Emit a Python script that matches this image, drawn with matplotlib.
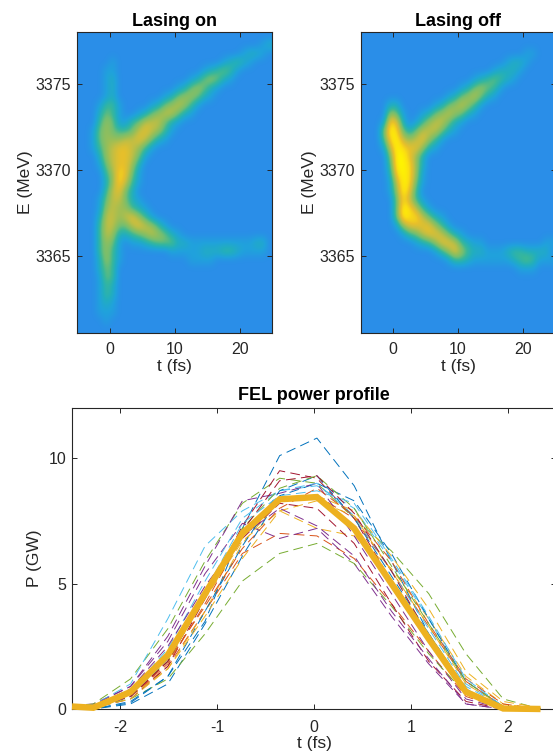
# -*- coding: utf-8 -*-
import numpy as np
import matplotlib
matplotlib.use("Agg")
import matplotlib.pyplot as plt
from matplotlib.colors import LinearSegmentedColormap

plt.rcParams['font.family'] = ['Liberation Sans', 'DejaVu Sans']
plt.rcParams['axes.unicode_minus'] = False

#----------------------------------------------------
#   camera images, read off by eye
#   1 char = 1 level (0-9), 1 fs x 0.5 MeV per cell, missing chars = 0
#----------------------------------------------------
rows_on = [
    "",
    "0000000000000000000000000000" "12",
    "0000000000000000000000000" "12210",
    "000001" "0000000000000000" "12321",
    "000011" "0000000000000" "123431",
    "000012" "00000000000" "1245421",
    "000012" "000000000" "1245421",
    "000012" "0000000" "12455421",
    "0001331" "0000" "12456531",
    "0002431" "00" "124566421",
    "0003541" "134666421",
    "001454334676531",
    "00145556676421",
    "001356776531",
    "00025677641",
    "0001467752",
    "0000358741",
    "0000258631",
    "000036742",
    "0001466421",
    "00015655321",
    "000266567531",
    "00036644676531",
    "0003652234565421",
    "00035410" "1123444221" "11111111122",
    "0003531" "0000000" "111112223321111",
    "0002531" "0000000000" "111100000",
    "000243",
    "000143",
    "000132",
    "000132",
    "000121",
    "000111",
    "00001",
    "",
]

rows_off = [
    "",
    "",
    "0000000000000000000000000" "11",
    "0000000000000000000000" "1221",
    "00000000000000000000" "12221",
    "00000000000000000" "1234321",
    "000000000000000" "1245431",
    "0000000000000" "12456421",
    "000022" "00000" "12456531",
    "0000541" "00" "124565421",
    "0001872" "0" "13566421",
    "0004984" "24666421",
    "000" "3896567531",
    "000" "169877521",
    "0000" "499752",
    "0000" "399852",
    "0000" "289851",
    "0000" "169841",
    "0000" "15973",
    "00000" "48631",
    "00000" "498631",
    "00000" "49886421",
    "00000" "157777531",
    "000000" "1346776421",
    "00000000" "12357763211" "000000000111",
    "00000000000" "13575322111" "2332222",
    "0000000000000" "1332111111" "2343111",
    "000000000000000000000000" "111",
    "",
    "",
    "",
    "",
    "",
    "",
    "",
]

#----------------------------------------------------
#   FEL power profile, single shots and average
#----------------------------------------------------
t_fs = [-2.665, -2.28, -1.895, -1.51, -1.125, -0.74, -0.355,
        0.03, 0.415, 0.8, 1.185, 1.57, 1.955, 2.34]

shot_01 = [0.0, 0.0, 0.25, 1.3, 3.5, 7.2, 10.1, 10.8, 8.9, 5.9, 3.0, 0.8, 0.0, 0.0]
shot_02 = [0.05, 0.1, 0.5, 1.7, 3.9, 6.2, 7.0, 6.9, 6.0, 4.2, 2.3, 0.5, 0.0, 0.0]
shot_03 = [0.0, 0.05, 0.6, 2.0, 4.4, 6.7, 7.9, 7.2, 6.9, 5.6, 3.6, 1.3, 0.2, 0.0]
shot_04 = [0.1, 0.2, 0.9, 2.7, 5.4, 7.4, 6.8, 7.2, 5.8, 3.7, 1.8, 0.2, 0.0, 0.0]
shot_05 = [0.05, 0.2, 1.2, 3.2, 5.9, 8.2, 9.2, 9.0, 7.6, 6.3, 4.6, 2.2, 0.4, 0.0]
shot_06 = [0.15, 0.15, 1.0, 3.6, 6.5, 7.9, 8.7, 8.9, 8.0, 5.9, 3.6, 1.0, 0.1, 0.0]
shot_07 = [0.0, 0.05, 0.4, 1.7, 4.4, 7.3, 9.5, 9.2, 7.6, 5.1, 2.7, 0.6, 0.0, 0.0]
shot_08 = [0.0, 0.0, 0.2, 1.0, 3.4, 6.1, 8.5, 9.0, 8.3, 6.2, 3.6, 1.1, 0.1, 0.0]
shot_09 = [0.0, 0.05, 0.5, 1.8, 4.2, 6.9, 8.4, 8.5, 7.6, 5.5, 3.3, 1.1, 0.1, 0.0]
shot_10 = [0.0, 0.05, 0.5, 1.6, 3.9, 6.6, 8.3, 8.5, 7.9, 6.1, 4.0, 1.5, 0.3, 0.05]
shot_11 = [0.05, 0.15, 0.9, 2.9, 5.7, 8.3, 8.6, 9.0, 6.9, 4.6, 2.3, 0.4, 0.0, 0.0]
shot_12 = [0.0, 0.1, 0.4, 1.2, 3.0, 5.1, 6.2, 6.6, 5.8, 4.1, 2.2, 0.6, 0.0, 0.0]
shot_13 = [0.0, 0.1, 0.7, 2.4, 5.1, 7.6, 8.7, 9.0, 7.7, 5.5, 3.2, 0.9, 0.1, 0.0]
shot_14 = [0.0, 0.05, 0.5, 1.9, 4.5, 6.8, 8.2, 8.0, 6.6, 4.2, 1.9, 0.3, 0.0, 0.0]
shot_15 = [0.0, 0.0, 0.3, 1.3, 3.9, 6.5, 8.7, 9.3, 7.6, 5.3, 3.0, 0.8, 0.0, 0.0]
shot_16 = [0.0, 0.05, 0.5, 1.9, 4.1, 6.4, 8.0, 8.8, 7.7, 5.9, 3.4, 1.2, 0.2, 0.0]
shot_17 = [0.0, 0.05, 0.4, 1.6, 3.7, 6.0, 7.9, 8.3, 7.7, 5.5, 3.3, 1.0, 0.1, 0.0]
shot_18 = [0.05, 0.1, 0.8, 2.5, 4.9, 6.9, 8.0, 7.3, 6.1, 3.9, 2.0, 0.2, 0.0, 0.0]
shot_19 = [0.0, 0.1, 0.6, 1.9, 4.5, 7.2, 8.8, 9.3, 8.0, 5.7, 3.4, 1.1, 0.1, 0.0]
shot_20 = [0.0, 0.05, 0.5, 2.0, 4.7, 7.4, 8.5, 8.7, 8.2, 6.0, 3.7, 1.2, 0.1, 0.0]
shot_21 = [0.0, 0.05, 0.5, 1.9, 4.6, 7.1, 9.1, 9.3, 7.8, 5.5, 2.9, 0.7, 0.0, 0.0]
shots = [shot_01, shot_02, shot_03, shot_04, shot_05, shot_06, shot_07,
         shot_08, shot_09, shot_10, shot_11, shot_12, shot_13, shot_14,
         shot_15, shot_16, shot_17, shot_18, shot_19, shot_20, shot_21]

t_mean = [-2.5, -2.28, -1.895, -1.51, -1.125, -0.74, -0.355,
          0.03, 0.415, 0.8, 1.185, 1.57, 1.955, 2.34]
p_mean = [0.1, 0.05, 0.68, 2.15, 4.6, 7.0, 8.36, 8.45, 7.2, 5.0, 2.8, 0.68, 0.02, 0.0]

e_ticks = [3365, 3370, 3375]
img_ticks = [0, 10, 20]
t_ticks = [-2, -1, 0, 1, 2]
p_ticks = [0, 5, 10]

matlab_colors = ["#0072BD", "#D95319", "#EDB120", "#7E2F8E",
                 "#77AC30", "#4DBEEE", "#A2142F"]
level_colors = ["#2A8EE8", "#20A2DC", "#22AEBE", "#38B79A", "#72BE72",
                "#98BE58", "#C4BE42", "#E8C02A", "#FBDE12", "#FFF600"]
dark = "#262626"
W, H = 553.0, 753.0


def to_grid(rows):
    return np.array([[int(c) for c in r.ljust(30, "0")[:30]] for r in rows], dtype=float)


def make_axes(fig, left, top, right, bottom, xpad):
    # pixel box -> figure fraction
    ax = fig.add_axes([left / W, 1 - bottom / H, (right - left) / W, (bottom - top) / H])
    for s in ax.spines.values():
        s.set_color(dark)
        s.set_linewidth(0.8)
    ax.tick_params(direction="in", top=True, right=True, length=3.5, width=0.7,
                   color=dark, labelcolor=dark, labelsize=11.5, pad=4)
    ax.tick_params(axis="x", pad=xpad)
    return ax


def draw_image(ax, rows, title, cmap):
    ax.imshow(to_grid(rows), extent=[-5, 25, 3360.5, 3378], origin="upper", aspect="auto",
              cmap=cmap, vmin=0, vmax=9, interpolation="bicubic")
    ax.set_xticks(img_ticks)
    ax.set_yticks(e_ticks)
    ax.set_title(title, fontsize=13, fontweight="bold", pad=4)
    ax.set_xlabel("t (fs)", fontsize=12.5, color=dark, labelpad=1.5)
    ax.set_ylabel("E (MeV)", fontsize=12.5, color=dark, labelpad=2)


def main():
    cmap = LinearSegmentedColormap.from_list("parula_part", level_colors)
    fig = plt.figure(figsize=(W / 100, H / 100), dpi=100)

    ax1 = make_axes(fig, 77, 32, 272.5, 333, 6.5)
    draw_image(ax1, rows_on, "Lasing on", cmap)

    ax2 = make_axes(fig, 360.5, 32, 555.5, 333, 6.5)
    draw_image(ax2, rows_off, "Lasing off", cmap)

    ax3 = make_axes(fig, 72, 408, 556, 709, 8)
    for i, shot in enumerate(shots):
        ax3.plot(t_fs, shot, color=matlab_colors[i % 7], linewidth=0.7,
                 dashes=(10, 5.5), zorder=2)
    ax3.plot(t_mean, p_mean, color="#EDB120", linewidth=4.6, zorder=3,
             solid_joinstyle="miter", solid_capstyle="butt", clip_on=False)
    ax3.set_xlim(-2.5, 2.5)
    ax3.set_ylim(0, 12)
    ax3.set_xticks(t_ticks)
    ax3.set_yticks(p_ticks)
    ax3.set_title("FEL power profile", fontsize=13, fontweight="bold", pad=5.5)
    ax3.set_xlabel("t (fs)", fontsize=12.5, color=dark, labelpad=0.5)
    ax3.set_ylabel("P (GW)", fontsize=12.5, color=dark, labelpad=5)

    fig.savefig("out.png", dpi=100)


if __name__ == '__main__':
    main()
